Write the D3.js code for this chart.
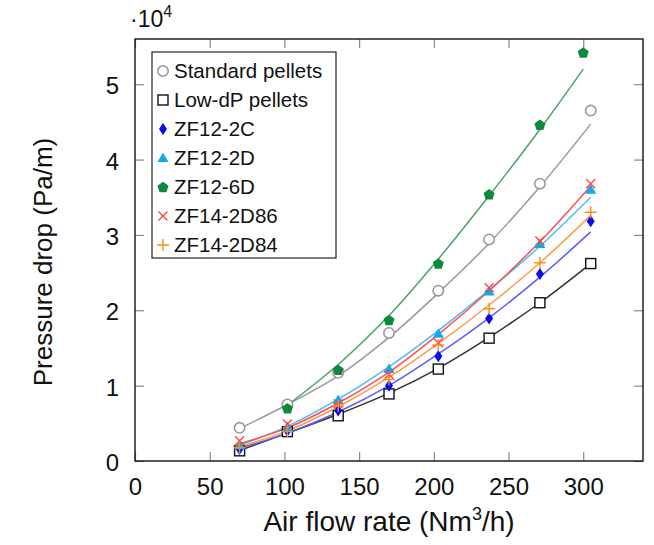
<!DOCTYPE html>
<html>
<head>
<meta charset="utf-8">
<script src="https://cdn.jsdelivr.net/npm/d3@7"></script>
<style>
  body { margin: 0; background: #fff; }
  text { font-family: "Liberation Sans", Arial, sans-serif; fill: #111; }
</style>
</head>
<body>
<div id="chart"></div>
<script>
// measured air flow rates (Nm3/h)
const flow = [70, 102, 136, 170, 203, 237, 271, 305];
const flowGreen = [102, 136, 170, 203, 237, 271, 300];

// measured pressure drop (Pa/m)
const standardPellets = [4400, 7500, 11700, 17000, 22600, 29400, 36800, 46500];
const lowDpPellets = [1350, 3900, 6000, 8900, 12200, 16300, 21000, 26200];
const zf12_2c = [1600, 4000, 6700, 10000, 13900, 18900, 24800, 31800];
const zf12_2d = [2100, 4500, 8100, 12200, 16900, 22500, 28800, 36000];
const zf12_6d = [7000, 12100, 18700, 26200, 35400, 44600, 54200];
const zf14_2d86 = [2700, 4900, 7600, 11500, 15700, 23000, 29200, 36800];
const zf14_2d84 = [1800, 3900, 7300, 10800, 15400, 20200, 26300, 33000];

// fitted curves (same x as the points)
const standardFit = [4300, 7500, 11300, 16400, 22300, 28900, 36400, 44700];
const lowDpFit = [1400, 3700, 6200, 9000, 12300, 16400, 21000, 26200];
const zf12_2cFit = [1700, 3700, 6500, 10000, 14200, 19000, 24400, 30400];
const zf12_2dFit = [2100, 4600, 8200, 12500, 17300, 22700, 28500, 35000];
const zf12_6dFit = [7400, 12800, 19300, 26800, 35200, 44000, 52000];
const zf14_2d86Fit = [2300, 4400, 7700, 11800, 16800, 22600, 29100, 36500];
const zf14_2d84Fit = [1900, 4000, 7200, 11100, 15600, 20700, 26300, 32600];

const xTicks = [0, 50, 100, 150, 200, 250, 300];
const yTicks = [0, 10000, 20000, 30000, 40000, 50000];

const series = [
  { name: "Standard pellets", x: flow, y: standardPellets, fit: standardFit, marker: "circle", color: "#999999", line: "#9a9a9a" },
  { name: "Low-dP pellets", x: flow, y: lowDpPellets, fit: lowDpFit, marker: "square", color: "#111111", line: "#333333" },
  { name: "ZF12-2C", x: flow, y: zf12_2c, fit: zf12_2cFit, marker: "diamond", color: "#0a0af0", line: "#5c5cff" },
  { name: "ZF12-2D", x: flow, y: zf12_2d, fit: zf12_2dFit, marker: "triangle", color: "#12a8f0", line: "#4cbcf5" },
  { name: "ZF12-6D", x: flowGreen, y: zf12_6d, fit: zf12_6dFit, marker: "pentagon", color: "#0f8a3c", line: "#4aa466" },
  { name: "ZF14-2D86", x: flow, y: zf14_2d86, fit: zf14_2d86Fit, marker: "cross", color: "#ff4545", line: "#ff5050" },
  { name: "ZF14-2D84", x: flow, y: zf14_2d84, fit: zf14_2d84Fit, marker: "plus", color: "#ff8a1f", line: "#ff9a4a" },
];

const W = 654, H = 545;
const margin = { top: 39, right: 11, bottom: 84, left: 135 };
const width = W - margin.left - margin.right,
  height = H - margin.top - margin.bottom;

const svg = d3
  .select("#chart")
  .append("svg")
  .attr("width", W)
  .attr("height", H);

const g = svg.append("g").attr("transform", `translate(${margin.left},${margin.top})`);

const x = d3.scaleLinear().domain([0, 340]).range([0, width]);
const y = d3.scaleLinear().domain([0, 56000]).range([height, 0]);

// inward ticks on all four sides
const tickLen = 9;
const tickColor = "#888";
const tickAxis = (axis, tr) => {
  const a = g.append("g").attr("transform", tr).call(axis);
  a.select(".domain").remove();
  a.selectAll(".tick line").attr("stroke", tickColor).attr("stroke-width", 1.2);
  return a;
};
const xb = tickAxis(d3.axisBottom(x).tickValues(xTicks).tickSize(-tickLen).tickPadding(17).tickFormat(d3.format("d")), `translate(0,${height})`);
xb.selectAll("text").style("font-size", "24px").attr("fill", "#111");
tickAxis(d3.axisTop(x).tickValues(xTicks).tickSize(-tickLen).tickFormat(""), "translate(0,0)");
const yl = tickAxis(d3.axisLeft(y).tickValues(yTicks).tickSize(-tickLen).tickPadding(16).tickFormat((d) => d / 10000), "translate(0,0)");
yl.selectAll("text").style("font-size", "24px").attr("fill", "#111").attr("dy", "0.4em");
tickAxis(d3.axisRight(y).tickValues(yTicks).tickSize(-tickLen).tickFormat(""), `translate(${width},0)`);

// fitted curves
const line = d3
  .line()
  .x((d) => x(d[0]))
  .y((d) => y(d[1]))
  .curve(d3.curveCatmullRom);

series.forEach((s) => {
  g.append("path")
    .attr("fill", "none")
    .attr("stroke", s.line)
    .attr("stroke-width", 1.5)
    .attr("d", line(s.x.map((v, i) => [v, s.fit[i]])));
});

// marker shapes
const drawMarker = (sel, type, color, cx, cy) => {
  const m = sel.append("g").attr("transform", `translate(${cx},${cy})`);
  if (type === "circle") {
    m.append("circle").attr("r", 5.2).attr("fill", "#fff").attr("stroke", color).attr("stroke-width", 1.6);
  } else if (type === "square") {
    m.append("rect").attr("x", -5).attr("y", -5).attr("width", 10).attr("height", 10)
      .attr("fill", "#fff").attr("stroke", color).attr("stroke-width", 1.4);
  } else if (type === "diamond") {
    m.append("path").attr("d", "M0,-6L4,0L0,6L-4,0Z").attr("fill", color);
  } else if (type === "triangle") {
    m.append("path").attr("d", "M0,-5.5L5.5,4L-5.5,4Z").attr("fill", color);
  } else if (type === "pentagon") {
    const pts = d3.range(5).map((i) => {
      const a = -Math.PI / 2 + (i * 2 * Math.PI) / 5;
      return [5.8 * Math.cos(a), 5.8 * Math.sin(a) + 0.5];
    });
    m.append("path").attr("d", "M" + pts.join("L") + "Z").attr("fill", color);
  } else if (type === "cross") {
    m.append("path").attr("d", "M-4.5,-4.5L4.5,4.5M-4.5,4.5L4.5,-4.5").attr("stroke", color).attr("stroke-width", 1.4);
  } else if (type === "plus") {
    m.append("path").attr("d", "M-6,0L6,0M0,-6L0,6").attr("stroke", color).attr("stroke-width", 1.4);
  }
};

series.forEach((s) => {
  const mg = g.append("g");
  s.x.forEach((v, i) => drawMarker(mg, s.marker, s.color, x(v), y(s.y[i])));
});

// frame
g.append("rect")
  .attr("width", width)
  .attr("height", height)
  .attr("fill", "none")
  .attr("stroke", "#111")
  .attr("stroke-width", 1.4);

// exponent label
const ex = svg.append("text").attr("x", 130).attr("y", 27).style("font-size", "23px");
ex.append("tspan").text("·10");
ex.append("tspan").attr("dy", -10).style("font-size", "16px").text("4");

// legend
const lg = g.append("g").attr("transform", "translate(17,13)");
lg.append("rect")
  .attr("width", 184)
  .attr("height", 206)
  .attr("fill", "#fff")
  .attr("stroke", "#111")
  .attr("stroke-width", 1.1);
series.forEach((s, i) => {
  const ry = 19 + i * 29;
  drawMarker(lg, s.marker, s.color, 11, ry);
  lg.append("text")
    .attr("x", 22)
    .attr("y", ry)
    .attr("dy", "0.36em")
    .style("font-size", "20.5px")
    .text(s.name);
});

// axis titles
const xt = svg.append("text")
  .attr("x", margin.left + x(170))
  .attr("y", 531)
  .attr("text-anchor", "middle")
  .style("font-size", "28px");
xt.append("tspan").text("Air flow rate (Nm");
xt.append("tspan").attr("dy", -11).style("font-size", "18px").text("3");
xt.append("tspan").attr("dy", 11).text("/h)");

svg.append("text")
  .attr("transform", `translate(52,262) rotate(-90)`)
  .attr("text-anchor", "middle")
  .style("font-size", "26px")
  .text("Pressure drop (Pa/m)");
</script>
</body>
</html>
